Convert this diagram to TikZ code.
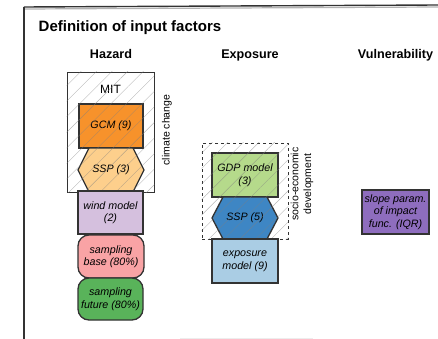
\documentclass[tikz,border=0pt]{standalone}
\usepackage{fontspec}
\setmainfont{Liberation Sans}
\usetikzlibrary{patterns.meta}
\definecolor{gcmC}{HTML}{F7922B}
\definecolor{sspaC}{HTML}{FDCF8C}
\definecolor{windC}{HTML}{D5C0DE}
\definecolor{sbaseC}{HTML}{F9A3A5}
\definecolor{sfutC}{HTML}{59B35A}
\definecolor{gdpC}{HTML}{B5DA8B}
\definecolor{sspbC}{HTML}{3E86C4}
\definecolor{expC}{HTML}{AACDE4}
\definecolor{vulC}{HTML}{8E6DBE}
\definecolor{edgeC}{HTML}{333333}
\tikzset{
  boxtxt/.style={align=center, inner sep=0pt, font=\fontsize{10.7}{12.5}\selectfont\itshape},
  factor/.style={boxtxt, draw=edgeC, line width=1.3pt, rectangle},
  hexpath/.style={draw=edgeC, line width=1.3pt, line join=round},
  heading/.style={anchor=base, font=\bfseries\fontsize{12.6}{15}\selectfont},
  groupbox/.style={draw=edgeC, line width=0.9pt, fill=white},
  hatch/.style={pattern={Lines[angle=45,distance=11pt,line width=0.4pt]}, pattern color=black!50},
  sidetxt/.style={rotate=90, inner sep=0pt, font=\fontsize{10.5}{12.5}\selectfont},
}
\begin{document}
\begin{tikzpicture}[x=1pt,y=-1pt]
\useasboundingbox (0,0) rectangle (438,339);
% outer frame
\draw[black!30, line width=1.2pt] (25,9) -- (438,7);
\draw[black!80, line width=1.4pt] (24,7) -- (438,5);
\draw[black!80, line width=1.4pt] (24,7) -- (24,339);
\draw[black!7, line width=1pt] (180,338.5) -- (313,338.5);

% title and headings
\node[anchor=base west, font=\bfseries\fontsize{15}{17}\selectfont, inner sep=0pt] (title) at (38.5,31.7) {Definition of input factors};
\node[heading] (hazard) at (111,59) {Hazard};
\node[heading] (exposure) at (250,59) {Exposure};
\node[heading] (vulnerability) at (395.5,59) {Vulnerability};

% ---------------- Hazard ----------------
\node[groupbox, minimum width=87pt, minimum height=120pt, inner sep=0pt] (mit) at (110.5,132) {};
\node[anchor=base, inner sep=0pt, font=\fontsize{12}{14}\selectfont] (mitlabel) at (110.5,93.3) {MIT};
\node[factor, fill=gcmC, minimum width=64pt, minimum height=44pt] (gcm) at (111,126) {GCM (9)};
\draw[hexpath, fill=sspaC] (78,170) -- (89,148) -- (133,148) -- (144,170) -- (133,192) -- (89,192) -- cycle;
\node[boxtxt] (ssp3) at (111,170) {SSP (3)};
\fill[hatch, opacity=0.55] (mit.north west) rectangle (mit.south east);
\node[sidetxt] (climate) at (167,130) {climate change};

\node[factor, fill=windC, minimum width=65pt, minimum height=43pt] (wind) at (110.5,212.5) {wind model\\(2)};
\node[factor, fill=sbaseC, rounded corners=11pt, minimum width=66pt, minimum height=43pt] (sbase) at (111,256.5) {sampling\\base (80\%)};
\node[factor, fill=sfutC, rounded corners=11pt, minimum width=65pt, minimum height=42pt] (sfut) at (110.5,299) {sampling\\future (80\%)};

% ---------------- Exposure ----------------
\node[groupbox, dashed, line width=0.8pt, minimum width=86pt, minimum height=96pt, inner sep=0pt] (socio) at (245,191) {};
\node[factor, fill=gdpC, minimum width=66pt, minimum height=44pt] (gdp) at (245,175) {GDP model\\(3)};
\draw[hexpath, fill=sspbC] (212,218) -- (223,197) -- (267,197) -- (278,218) -- (267,239) -- (223,239) -- cycle;
\node[boxtxt] (ssp5) at (245,218) {SSP (5)};
\fill[hatch, opacity=0.55] (socio.north west) rectangle (socio.south east);
\node[sidetxt] (sociolabelA) at (294.5,184) {socio-economic};
\node[sidetxt] (sociolabelB) at (308.5,184) {development};
\node[factor, fill=expC, minimum width=66pt, minimum height=44pt] (expmodel) at (245,261) {exposure\\model (9)};

% ---------------- Vulnerability ----------------
\node[factor, fill=vulC, minimum width=67pt, minimum height=44pt] (slope) at (395.5,212) {slope param.\\of impact\\func. (IQR)};
\end{tikzpicture}
\end{document}
